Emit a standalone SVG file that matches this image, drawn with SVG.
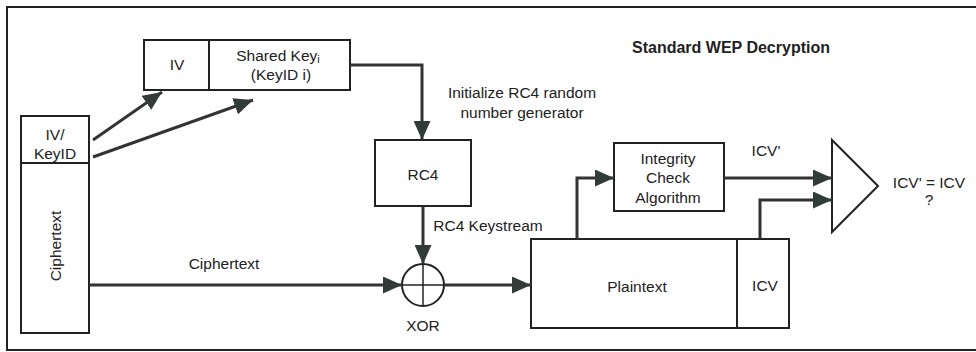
<svg xmlns="http://www.w3.org/2000/svg" width="976" height="352" viewBox="0 0 976 352">
<defs>
<marker id="ah" markerUnits="userSpaceOnUse" markerWidth="19" markerHeight="17" refX="19" refY="8.5" orient="auto">
<path d="M0,0 L19,8.5 L0,17 Z" fill="#333b38"/>
</marker>
<style>
.box{fill:#fff;stroke:#222;stroke-width:2}
.con{fill:none;stroke:#333;stroke-width:3}
.t{font-family:"Liberation Sans",Arial,sans-serif;font-size:15.5px;fill:#222;text-anchor:middle;dominant-baseline:central}
.b{font-weight:bold;font-size:16px}
</style>
</defs>
<rect x="0" y="0" width="976" height="352" fill="#fff"/>
<rect x="7" y="7" width="985" height="343" fill="none" stroke="#222" stroke-width="2"/>
<text class="t b" x="731" y="47">Standard WEP Decryption</text>

<g id="ivkeyid">
<rect class="box" x="21" y="116" width="68" height="47"/>
<text class="t" x="55" y="134">IV/</text>
<text class="t" x="55" y="153">KeyID</text>
</g>
<g id="ciphertext-box">
<rect class="box" x="21" y="163" width="68" height="170"/>
<text class="t" transform="translate(55,246) rotate(-90)" x="0" y="0">Ciphertext</text>
</g>
<g id="iv-sharedkey">
<rect class="box" x="144" y="40" width="65" height="50"/>
<rect class="box" x="209" y="40" width="141" height="50"/>
<text class="t" x="177" y="64">IV</text>
<text class="t" x="278" y="55">Shared Key<tspan font-size="11" dy="4">i</tspan></text>
<text class="t" x="281" y="74">(KeyID i)</text>
</g>
<g id="rc4">
<rect class="box" x="375" y="140" width="96" height="66"/>
<text class="t" x="423" y="174">RC4</text>
</g>
<g id="xor">
<circle cx="423" cy="285" r="21" fill="#fff" stroke="#222" stroke-width="2"/>
<line x1="402" y1="285" x2="444" y2="285" stroke="#222" stroke-width="1.5"/>
<line x1="423" y1="264" x2="423" y2="306" stroke="#222" stroke-width="1.5"/>
<text class="t" x="423" y="325">XOR</text>
</g>
<g id="integrity">
<rect class="box" x="614" y="143" width="110" height="68"/>
<text class="t" x="668" y="158">Integrity</text>
<text class="t" x="668" y="177">Check</text>
<text class="t" x="668" y="197">Algorithm</text>
</g>
<g id="plaintext">
<rect class="box" x="531" y="239" width="206" height="89"/>
<rect class="box" x="737" y="239" width="52" height="89"/>
<text class="t" x="637" y="286">Plaintext</text>
<text class="t" x="765" y="285">ICV</text>
</g>
<g id="compare">
<polygon points="832,140 878,186 832,232" fill="#fff" stroke="#222" stroke-width="2"/>
<text class="t" x="929" y="182">ICV' = ICV</text>
<text class="t" x="929" y="199">?</text>
</g>

<g id="connectors">
<line class="con" x1="93" y1="140" x2="162" y2="92" marker-end="url(#ah)"/>
<line class="con" x1="93" y1="157" x2="253" y2="100" marker-end="url(#ah)"/>
<polyline class="con" points="350,65 422,65 422,140" marker-end="url(#ah)"/>
<line class="con" x1="423" y1="206" x2="423" y2="264" marker-end="url(#ah)"/>
<line class="con" x1="89" y1="285" x2="402" y2="285" marker-end="url(#ah)"/>
<line class="con" x1="444" y1="285" x2="531" y2="285" marker-end="url(#ah)"/>
<polyline class="con" points="577,239 577,178 614,178" marker-end="url(#ah)"/>
<line class="con" x1="724" y1="178" x2="832" y2="178" marker-end="url(#ah)"/>
<polyline class="con" points="760,239 760,200 832,200" marker-end="url(#ah)"/>
<text class="t" x="522" y="92">Initialize RC4 random</text>
<text class="t" x="522" y="112">number generator</text>
<text class="t" x="488" y="225">RC4 Keystream</text>
<text class="t" x="224" y="263">Ciphertext</text>
<text class="t" x="766" y="150">ICV'</text>
</g>
</svg>
